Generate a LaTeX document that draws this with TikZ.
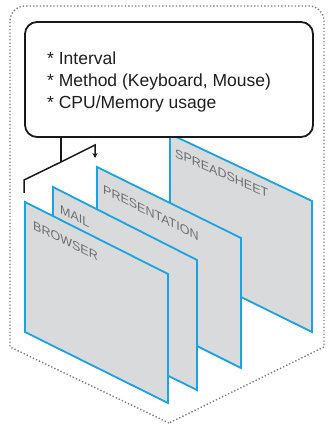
\documentclass[tikz,border=0pt]{standalone}
\usepackage{fontspec}
\setmainfont{Liberation Sans}
\usetikzlibrary{arrows.meta}
\definecolor{panelblue}{HTML}{1AA3E0}
\definecolor{panelgray}{HTML}{D9DADB}
\definecolor{labelgray}{HTML}{6E6E6E}
\definecolor{dotgray}{HTML}{7A7A7A}
\tikzset{
  panel/.style={draw=panelblue, fill=panelgray, line width=1.8pt, line join=miter},
  plabel/.style={anchor=base west, inner sep=0pt, text=labelgray, font=\fontsize{12.5}{14}\selectfont},
  outline/.style={draw=dotgray, line width=1.4pt, dash pattern=on 1.3pt off 2.1pt},
  infobox/.style={draw=black!90, line width=1.8pt, rounded corners=12pt, fill=white, minimum width=288pt, minimum height=115pt, inner sep=0pt},
  link/.style={draw=black!90, line width=1.5pt}
}
\begin{document}
\begin{tikzpicture}[x=1pt,y=-1pt]
\useasboundingbox (0,0) rectangle (327,427);
% dotted outline
\draw[outline] (169,423) -- (10,347) [rounded corners=15pt] -- (10,6) -- (324,6) [sharp corners] -- (324,347) -- cycle;
% spreadsheet panel (behind the box)
\draw[panel] (170,134) -- (312,201) -- (312,332) -- (170,262) -- cycle;
\node[plabel, yslant=-0.44] (lsheet) at (175,157) {SPREADSHEET};
% info box
\node[infobox] (box) at (169,79.5) {};
\node[anchor=base west, inner sep=0pt, align=left, text=black!88,
      font=\fontsize{17.5}{22}\selectfont] (info) at (47,109)
  {* Interval\\* Method (Keyboard, Mouse)\\* CPU/Memory usage};
% presentation panel
\draw[panel] (97,167) -- (241,238) -- (241,368) -- (97,296) -- cycle;
\node[plabel, yslant=-0.5] (lpres) at (103,193) {PRESENTATION};
% mail panel
\draw[panel] (53,187) -- (197,260) -- (197,390) -- (53,319) -- cycle;
\node[plabel, yslant=-0.5] (lmail) at (60,213) {MAIL};
% browser panel
\draw[panel] (25,202) -- (168,274) -- (168,403) -- (25,332) -- cycle;
\node[plabel, yslant=-0.5] (lbrowser) at (33,229) {BROWSER};
% connector
\coordinate (junc) at (61,162);
\coordinate (lt) at (24,180);
\coordinate (lb) at (24,193);
\coordinate (rt) at (95,145);
\coordinate (rb) at (95,158);
\draw[link] (box.south -| junc) -- (junc);
\draw[link, line join=miter] (junc) -- (lt) -- (lb);
\draw[link, line join=miter, -{Stealth[length=5pt,width=5pt]}] (junc) -- (rt) -- (rb);
\end{tikzpicture}
\end{document}
